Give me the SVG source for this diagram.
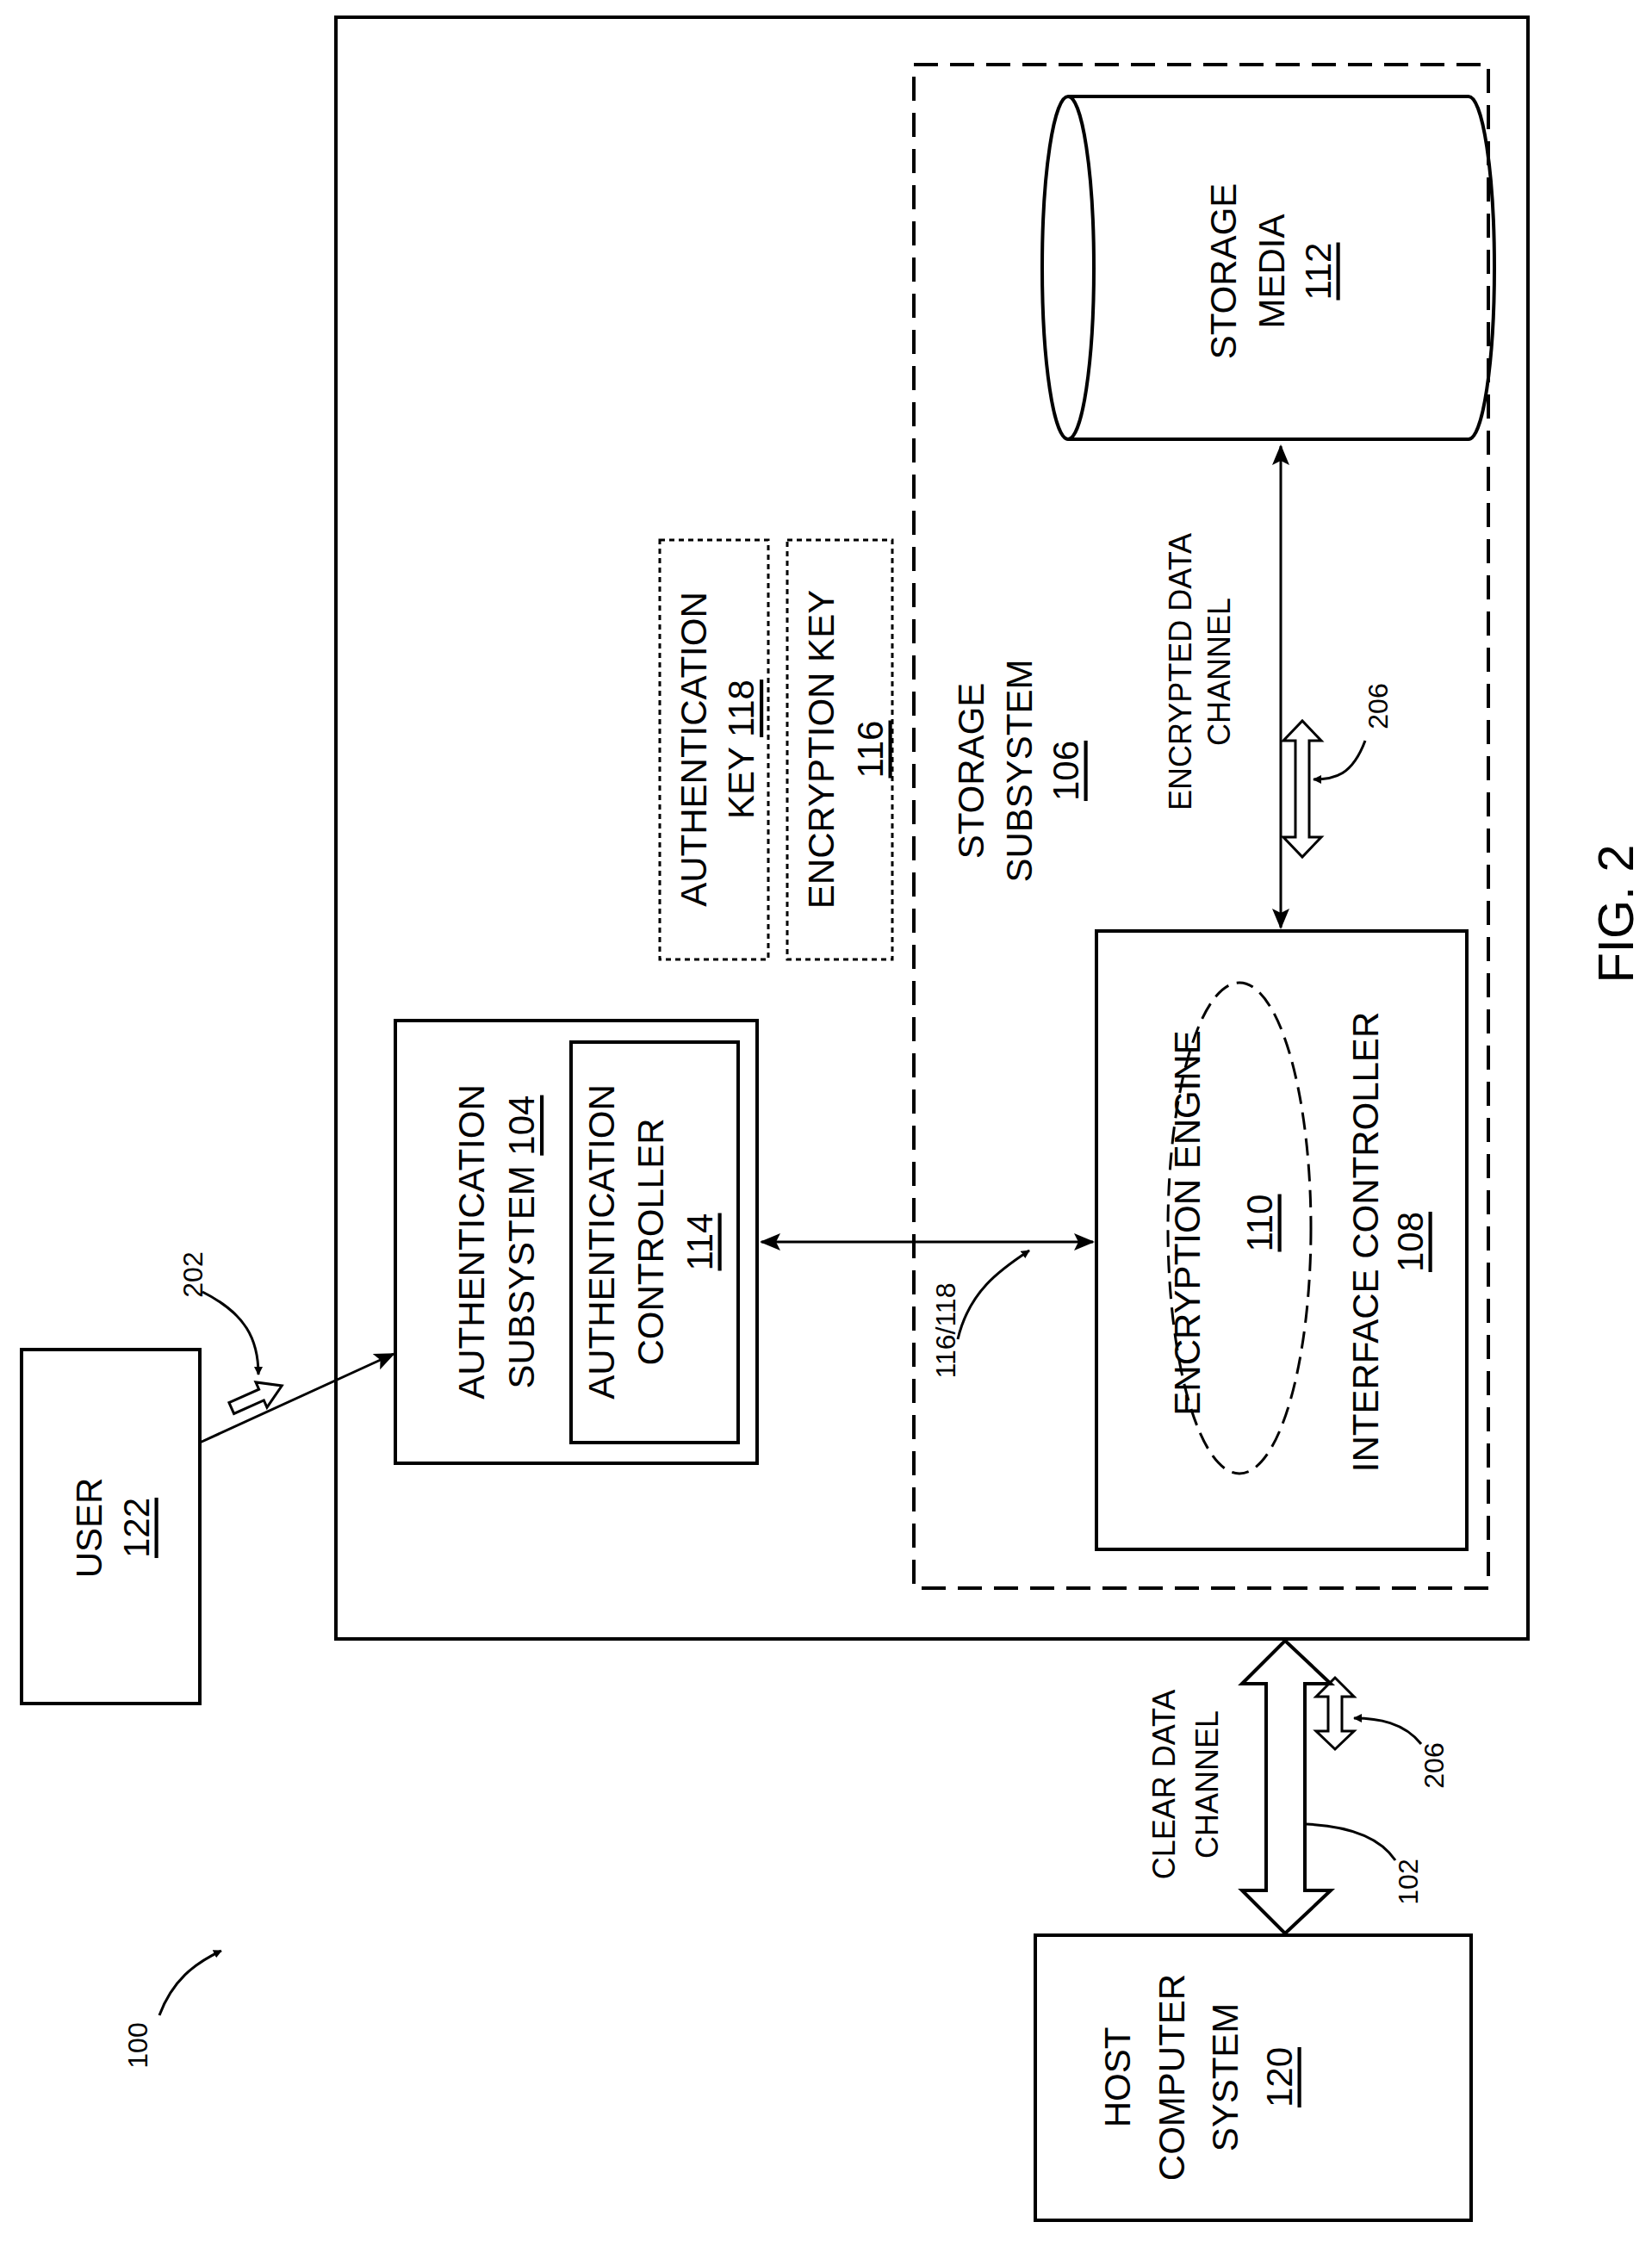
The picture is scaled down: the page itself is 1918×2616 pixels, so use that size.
<svg xmlns="http://www.w3.org/2000/svg" width="1918" height="2616" viewBox="0 0 1918 2616">
<style>
.b{fill:none;stroke:#000;stroke-width:4}
.t{font-family:"Liberation Sans",Arial,sans-serif;font-size:42px;text-anchor:middle;dominant-baseline:central;fill:#000}
.s{font-family:"Liberation Sans",Arial,sans-serif;font-size:32px;text-anchor:middle;dominant-baseline:central;fill:#000}
.u{text-decoration:underline}
.l{fill:none;stroke:#000;stroke-width:3}
</style>
<defs>
<marker id="a" markerWidth="10" markerHeight="10" refX="9" refY="5" orient="auto-start-reverse" markerUnits="userSpaceOnUse" viewBox="0 0 10 10"><path d="M0,0L10,5L0,10z"/></marker>
<marker id="m" markerWidth="24" markerHeight="20" refX="22" refY="10" orient="auto-start-reverse" markerUnits="userSpaceOnUse"><path d="M0,0L24,10L0,20L5,10z"/></marker>
</defs>
<rect x="0" y="0" width="1918" height="2616" fill="#fff"/>
<g id="outer"><rect class="b" x="390" y="20" width="1384" height="1883"/></g>
<g id="storage-subsystem"><rect class="b" x="1061" y="75" width="667" height="1769" stroke-dasharray="28,14"/>
<text class="t" transform="translate(1127,895) rotate(-90)">STORAGE</text>
<text class="t" transform="translate(1183,895) rotate(-90)">SUBSYSTEM</text>
<text class="t u" transform="translate(1237,895) rotate(-90)">106</text></g>
<g id="storage-media">
<path class="b" d="M1240,112 L1705,112 A30,199 0 0 1 1705,510 L1240,510" fill="#fff"/>
<ellipse class="b" cx="1240" cy="311" rx="30" ry="199" fill="#fff"/>
<text class="t" transform="translate(1420,315) rotate(-90)">STORAGE</text>
<text class="t" transform="translate(1476,315) rotate(-90)">MEDIA</text>
<text class="t u" transform="translate(1530,315) rotate(-90)">112</text></g>
<g id="interface-controller"><rect class="b" x="1273" y="1081" width="430" height="718"/>
<ellipse cx="1439" cy="1426" rx="83" ry="285" fill="none" stroke="#000" stroke-width="3" stroke-dasharray="20,10"/>
<text class="t" transform="translate(1378,1420) rotate(-90)">ENCRYPTION ENGINE</text>
<text class="t u" transform="translate(1462,1420) rotate(-90)">110</text>
<text class="t" transform="translate(1585,1442) rotate(-90)">INTERFACE CONTROLLER</text>
<text class="t u" transform="translate(1637,1442) rotate(-90)">108</text></g>
<g id="auth-subsystem"><rect class="b" x="459" y="1185" width="420" height="514"/>
<rect class="b" x="663" y="1210" width="194" height="465" stroke-width="5"/>
<text class="t" transform="translate(547,1442) rotate(-90)">AUTHENTICATION</text>
<text class="t" transform="translate(605,1442) rotate(-90)">SUBSYSTEM <tspan class="u">104</tspan></text>
<text class="t" transform="translate(698,1442) rotate(-90)">AUTHENTICATION</text>
<text class="t" transform="translate(755,1442) rotate(-90)">CONTROLLER</text>
<text class="t u" transform="translate(812,1442) rotate(-90)">114</text></g>
<g id="auth-key"><rect x="766" y="627" width="126" height="487" fill="none" stroke="#000" stroke-width="3" stroke-dasharray="6,5"/>
<text class="t" transform="translate(805,870) rotate(-90)">AUTHENTICATION</text>
<text class="t" transform="translate(860,870) rotate(-90)">KEY <tspan class="u">118</tspan></text></g>
<g id="enc-key"><rect x="914" y="627" width="122" height="487" fill="none" stroke="#000" stroke-width="3" stroke-dasharray="6,5"/>
<text class="t" transform="translate(953,870) rotate(-90)">ENCRYPTION KEY</text>
<text class="t u" transform="translate(1010,870) rotate(-90)">116</text></g>
<g id="user"><rect class="b" x="25" y="1567" width="207" height="411"/>
<text class="t" transform="translate(103,1774) rotate(-90)">USER</text>
<text class="t u" transform="translate(158,1774) rotate(-90)">122</text></g>
<g id="host"><rect class="b" x="1202" y="2247" width="506" height="331"/>
<text class="t" transform="translate(1297,2412) rotate(-90)">HOST</text>
<text class="t" transform="translate(1360,2412) rotate(-90)">COMPUTER</text>
<text class="t" transform="translate(1422,2412) rotate(-90)">SYSTEM</text>
<text class="t u" transform="translate(1485,2412) rotate(-90)">120</text></g>
<g id="connectors">
<line class="l" x1="1487" y1="518" x2="1487" y2="1077" marker-start="url(#m)" marker-end="url(#m)" stroke-width="4"/>
<line class="l" x1="884" y1="1442" x2="1269" y2="1442" marker-start="url(#m)" marker-end="url(#m)" stroke-width="4"/>
<line class="l" x1="232" y1="1675" x2="457" y2="1572" marker-end="url(#m)" stroke-width="4"/>
<path class="b" d="M1442,1955 L1492,1905 L1545,1955 L1515,1955 L1515,2195 L1545,2195 L1492,2245 L1442,2195 L1470,2195 L1470,1955 Z" fill="#fff"/>
<path class="l" d="M1490,860 L1512,837 L1534,860 L1520,860 L1520,972 L1534,972 L1512,995 L1490,972 L1504,972 L1504,860 Z" fill="#fff"/>
<path class="l" d="M1528,1970 L1550,1948 L1572,1970 L1558,1970 L1558,2010 L1572,2010 L1550,2031 L1528,2010 L1542,2010 L1542,1970 Z" fill="#fff"/>
<path class="l" transform="translate(298,1622) rotate(-24)" d="M-32,-7 L6,-7 L6,-16 L32,0 L6,16 L6,7 L-32,7 Z" fill="#fff"/>
<path class="l" d="M235,1500 C285,1525 300,1555 300,1596" marker-end="url(#a)"/>
<path class="l" d="M1585,860 C1570,900 1550,905 1525,905" marker-end="url(#a)"/>
<path class="l" d="M1112,1555 C1125,1500 1160,1475 1195,1452" marker-end="url(#a)"/>
<path class="l" d="M1620,2160 C1600,2130 1560,2120 1517,2118"/>
<path class="l" d="M1650,2025 C1630,2000 1600,1995 1572,1995" marker-end="url(#a)"/>
<path class="l" d="M185,2340 C200,2300 225,2280 257,2265" marker-end="url(#a)"/>
</g>
<g id="labels">
<text class="t" transform="translate(1370,780) rotate(-90)" style="font-size:36px">ENCRYPTED DATA</text>
<text class="t" transform="translate(1415,780) rotate(-90)" style="font-size:36px">CHANNEL</text>
<text class="t" transform="translate(1351,2072) rotate(-90)" style="font-size:36px">CLEAR DATA</text>
<text class="t" transform="translate(1401,2072) rotate(-90)" style="font-size:36px">CHANNEL</text>
<text class="s" transform="translate(1098,1545) rotate(-90)">116/118</text>
<text class="s" transform="translate(1600,820) rotate(-90)">206</text>
<text class="s" transform="translate(1665,2050) rotate(-90)">206</text>
<text class="s" transform="translate(1635,2185) rotate(-90)">102</text>
<text class="s" transform="translate(224,1480) rotate(-90)">202</text>
<text class="s" transform="translate(160,2375) rotate(-90)">100</text>
<text class="t" transform="translate(1875,1061) rotate(-90)" style="font-size:58px">FIG. 2</text>
</g>
</svg>
